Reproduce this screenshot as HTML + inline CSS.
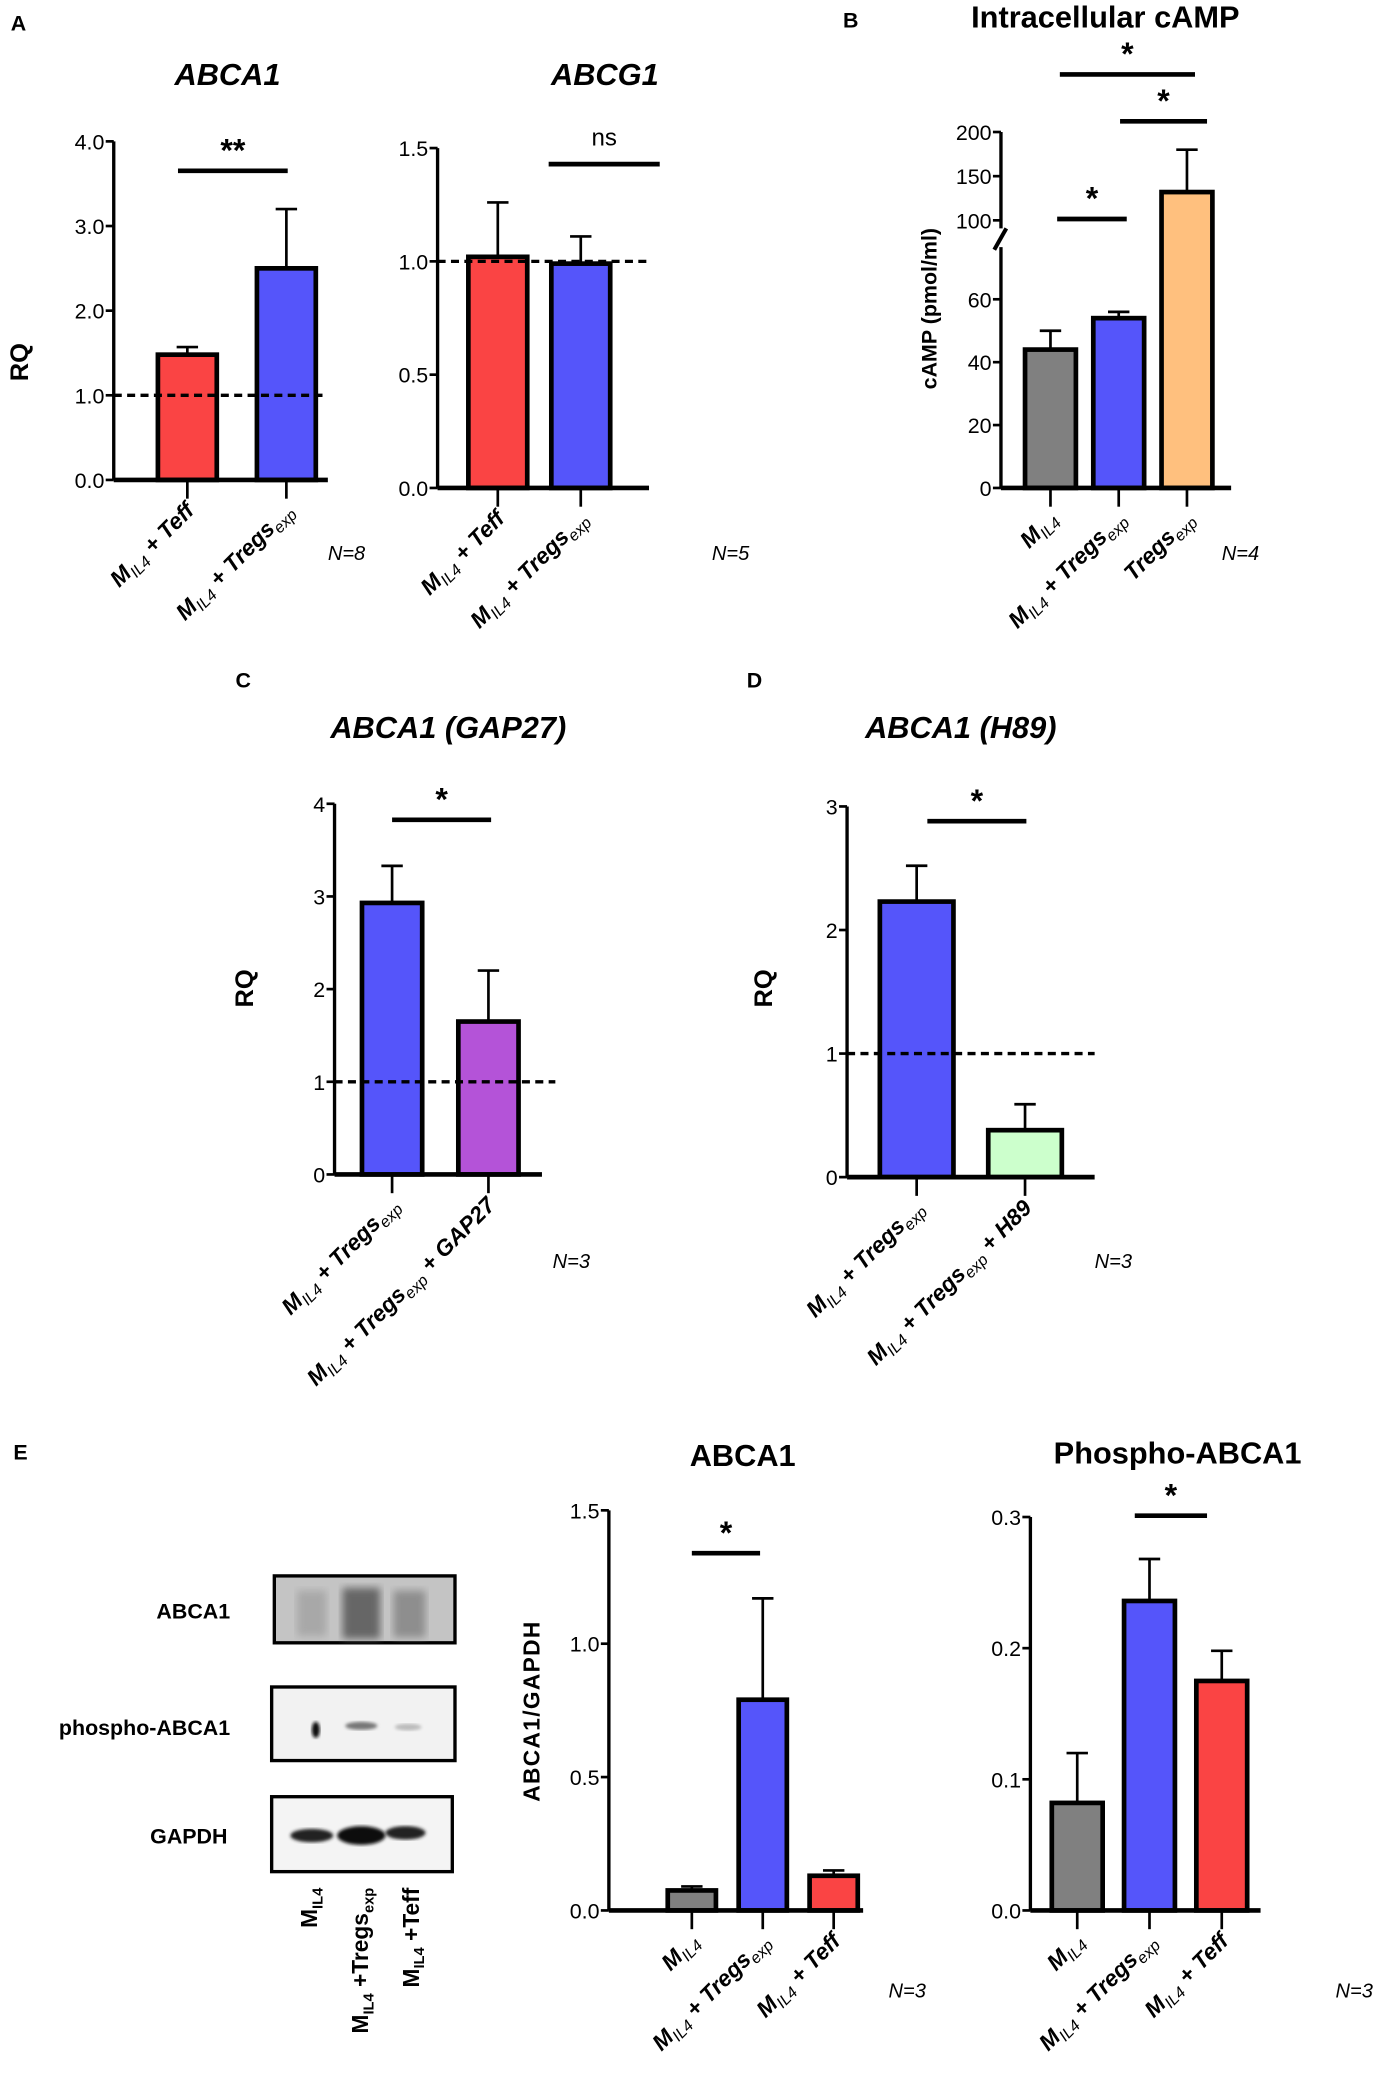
<!DOCTYPE html>
<html><head><meta charset="utf-8">
<style>
html,body{margin:0;padding:0;background:#fff;}
svg{display:block;font-family:"Liberation Sans",sans-serif;}
</style></head>
<body>
<svg id="fig" width="1381" height="2100" viewBox="0 0 1032 1568" xmlns="http://www.w3.org/2000/svg">
<defs>
<filter id="blur2"><feGaussianBlur stdDeviation="3"/></filter>
<filter id="blur1"><feGaussianBlur stdDeviation="1.2"/></filter>
</defs>
<g font-size="16" font-weight="bold">
<text x="8" y="22">A</text><text x="630" y="20">B</text><text x="176" y="513">C</text><text x="558" y="513">D</text><text x="10" y="1090">E</text>
</g>
<g font-weight="bold" font-size="23" text-anchor="middle">
<text x="170" y="63" font-style="italic">ABCA1</text>
<text x="452" y="63" font-style="italic">ABCG1</text>
<text x="826" y="20">Intracellular cAMP</text>
<text x="335" y="551" font-style="italic">ABCA1 (GAP27)</text>
<text x="718" y="551" font-style="italic">ABCA1 (H89)</text>
<text x="555" y="1095">ABCA1</text>
<text x="880" y="1093">Phospho-ABCA1</text>
</g>
<g font-weight="bold" font-size="19" text-anchor="middle">
<text transform="translate(21,270) rotate(-90)">RQ</text>
<text transform="translate(700,230) rotate(-90)" font-size="16">cAMP (pmol/ml)</text>
<text transform="translate(189,738) rotate(-90)">RQ</text>
<text transform="translate(577,738) rotate(-90)">RQ</text>
<text transform="translate(403,1278) rotate(-90)" font-size="17" letter-spacing="1">ABCA1/GAPDH</text>
</g>
<g font-style="italic" font-size="15">
<text x="245" y="418">N=8</text><text x="532" y="418">N=5</text><text x="913" y="418">N=4</text>
<text x="413" y="947">N=3</text><text x="818" y="947">N=3</text><text x="664" y="1492">N=3</text><text x="998" y="1492">N=3</text>
</g>
<g id="charts"></g>
<g>
<g font-weight="bold" font-size="16" text-anchor="end">
<text x="172" y="1209">ABCA1</text><text x="172" y="1296">phospho-ABCA1</text><text x="170" y="1377">GAPDH</text>
</g>
<rect x="205" y="1177" width="135" height="50" fill="#c4c4c4" stroke="#000" stroke-width="2.5"/>
<rect x="222" y="1188" width="22" height="34" fill="#a8a8a8" filter="url(#blur2)"/>
<rect x="256" y="1186" width="28" height="38" fill="#666" filter="url(#blur2)"/>
<rect x="294" y="1188" width="24" height="35" fill="#8e8e8e" filter="url(#blur2)"/>
<rect x="203" y="1260" width="137" height="55" fill="#f2f2f2" stroke="#000" stroke-width="2.5"/>
<ellipse cx="236" cy="1292" rx="3" ry="6" fill="#111" filter="url(#blur1)"/>
<ellipse cx="270" cy="1289" rx="12" ry="3" fill="#777" filter="url(#blur1)"/>
<ellipse cx="305" cy="1290" rx="10" ry="2.5" fill="#bbb" filter="url(#blur1)"/>
<rect x="203" y="1342" width="135" height="56" fill="#f4f4f4" stroke="#000" stroke-width="2.5"/>
<ellipse cx="233" cy="1371" rx="16" ry="5" fill="#222" filter="url(#blur1)"/>
<ellipse cx="270" cy="1371" rx="18" ry="7" fill="#111" filter="url(#blur1)"/>
<ellipse cx="303" cy="1369" rx="15" ry="5" fill="#222" filter="url(#blur1)"/>
<g font-weight="bold" font-size="17" text-anchor="end">
<text transform="translate(237,1410) rotate(-90)">M<tspan font-size="11" dy="4">IL4</tspan></text>
<text transform="translate(275,1410) rotate(-90)">M<tspan font-size="11" dy="4">IL4</tspan><tspan dy="-4"> +Tregs</tspan><tspan font-size="11" dy="4">exp</tspan></text>
<text transform="translate(313,1410) rotate(-90)">M<tspan font-size="11" dy="4">IL4</tspan><tspan dy="-4"> +Teff</tspan></text>
</g>
</g>
</svg>
<script>
// ---- data ----
const A1_vals=[1.48,2.5];
const A1_errs=[1.57,3.2];
const A1_ticks=[0,1,2,3,4];
const A1_tickLabels=['0.0','1.0','2.0','3.0','4.0'];
const G1_vals=[1.02,0.99];
const G1_errs=[1.26,1.11];
const G1_ticks=[0,0.5,1,1.5];
const G1_tickLabels=['0.0','0.5','1.0','1.5'];
const B_vals=[44,54,132];
const B_errs=[50,56,180];
const B_ticks=[0,20,40,60,100,150,200];
const B_tickLabels=['0','20','40','60','100','150','200'];
const C_vals=[2.93,1.65];
const C_errs=[3.33,2.2];
const C_ticks=[0,1,2,3,4];
const C_tickLabels=['0','1','2','3','4'];
const D_vals=[2.23,0.38];
const D_errs=[2.52,0.59];
const D_ticks=[0,1,2,3];
const D_tickLabels=['0','1','2','3'];
const E1_vals=[0.075,0.79,0.13];
const E1_errs=[0.09,1.17,0.15];
const E1_ticks=[0,0.5,1,1.5];
const E1_tickLabels=['0.0','0.5','1.0','1.5'];
const E2_vals=[0.082,0.236,0.175];
const E2_errs=[0.12,0.268,0.198];
const E2_ticks=[0,0.1,0.2,0.3];
const E2_tickLabels=['0.0','0.1','0.2','0.3'];

const NS='http://www.w3.org/2000/svg';
const root=document.getElementById('charts');
function mk(tag,parent,name,attrs){
  const el=document.createElementNS(NS,tag);
  
  
  for(const k in attrs) el.setAttribute(k,attrs[k]);
  parent.appendChild(el);return el;
}
const M=['M',['IL4',1]];
function lbl(parent,x,y,parts,name){
  const t=mk('text',parent,name,{x:x,y:y,'text-anchor':'end','font-size':17,'font-weight':'bold','font-style':'italic',transform:`rotate(-45 ${x} ${y})`});
  let sub=false;
  parts.forEach(p=>{
    const s=Array.isArray(p); const txt=s?p[0]:p; const isSub=s&&p[1];
    const ts=document.createElementNS(NS,'tspan');
    ts.textContent=txt;
    if(isSub){ts.setAttribute('font-size','12');ts.setAttribute('font-weight','normal');if(!sub){ts.setAttribute('dy','4');sub=true;}}
    else if(sub){ts.setAttribute('dy','-4');sub=false;}
    t.appendChild(ts);
  });
}
function chart(c){
  const g=mk('g',root,c.name,{});
  const yf=c.yf||(v=>c.y0-v*(c.y0-c.yTop)/c.max);
  c.vals.forEach((v,i)=>{
    const cx=c.first+i*c.step;
    const ey=yf(c.errs[i]);
    mk('line',g,c.name+'-error-'+i,{x1:cx,x2:cx,y1:yf(v),y2:ey,stroke:'#000','stroke-width':2});
    mk('line',g,c.name+'-error-cap-'+i,{x1:cx-8,x2:cx+8,y1:ey,y2:ey,stroke:'#000','stroke-width':2});
    mk('rect',g,c.name+'-bar-'+i,{x:cx-c.bw/2,y:yf(v),width:c.bw,height:c.y0-yf(v),fill:c.colors[i],stroke:'#000','stroke-width':3.5});
    mk('line',g,c.name+'-xtick-'+i,{x1:cx,x2:cx,y1:c.y0,y2:c.y0+14,stroke:'#000','stroke-width':2});
    lbl(g,cx+6,c.y0+24,c.labels[i],c.name+'-xlabel-'+i);
  });
  if(c.broken){
    mk('line',g,c.name+'-y-axis',{x1:c.x0,x2:c.x0,y1:c.y0,y2:184,stroke:'#000','stroke-width':2.5});
    mk('line',g,c.name+'-y-axis-upper',{x1:c.x0,x2:c.x0,y1:170,y2:c.yTop,stroke:'#000','stroke-width':2.5});
    mk('line',g,c.name+'-axis-break',{x1:c.x0-5,x2:c.x0+4,y1:186,y2:170,stroke:'#000','stroke-width':3});
  } else mk('line',g,c.name+'-y-axis',{x1:c.x0,x2:c.x0,y1:c.y0,y2:c.yTop,stroke:'#000','stroke-width':2.5});
  mk('line',g,c.name+'-x-axis',{x1:c.x0,x2:c.x1,y1:c.y0,y2:c.y0,stroke:'#000','stroke-width':3.5});
  c.ticks.forEach((t,i)=>{
    const y=yf(t);
    mk('line',g,c.name+'-ytick-'+i,{x1:c.x0-6,x2:c.x0,y1:y,y2:y,stroke:'#000','stroke-width':2});
    const tx=mk('text',g,c.name+'-ytick-label-'+i,{x:c.x0-7,y:y+6,'text-anchor':'end','font-size':16});
    tx.textContent=c.tickLabels[i];
  });
  if(c.dash) mk('line',g,c.name+'-reference-line',{x1:c.x0,x2:c.dash,y1:yf(1),y2:yf(1),stroke:'#000','stroke-width':2.5,'stroke-dasharray':'6,4'});
  c.sig.forEach((s,i)=>{
    mk('line',g,c.name+'-sig-bar-'+i,{x1:s[0],x2:s[1],y1:s[2],y2:s[2],stroke:'#000','stroke-width':3.5});
    const tx=mk('text',g,c.name+'-sig-label-'+i,{x:(s[0]+s[1])/2,y:s[2]-(s[3]=='ns'?14:7),'text-anchor':'middle','font-size':s[3]=='ns'?18:24,'font-weight':s[3]=='ns'?'normal':'bold'});
    tx.textContent=s[3];
  });
}
const RED='#fa4444',BLUE='#5555fa',GREY='#808080',ORANGE='#ffc07e',PURPLE='#b453d8',GREEN='#ccffcc';
chart({name:'abca1-chart',x0:85,x1:245,yTop:105,y0:358,max:4,ticks:A1_ticks,tickLabels:A1_tickLabels,vals:A1_vals,errs:A1_errs,first:140,step:74,bw:44,colors:[RED,BLUE],dash:245,
  labels:[[...M,' + Teff'],[...M,' + Tregs',['exp',1]]],sig:[[133,215,127,'**']]});
chart({name:'abcg1-chart',x0:327,x1:485,yTop:110,y0:364,max:1.5,ticks:G1_ticks,tickLabels:G1_tickLabels,vals:G1_vals,errs:G1_errs,first:372,step:62,bw:44,colors:[RED,BLUE],dash:485,
  labels:[[...M,' + Teff'],[...M,' + Tregs',['exp',1]]],sig:[[410,493,122,'ns']]});
chart({name:'camp-chart',x0:748,x1:920,yTop:98,y0:364,broken:true,yf:v=>v<=80?364-v*2.35:164-(v-100)*0.66,ticks:B_ticks,tickLabels:B_tickLabels,vals:B_vals,errs:B_errs,first:785,step:51,bw:38,colors:[GREY,BLUE,ORANGE],
  labels:[[...M],[...M,' + Tregs',['exp',1]],['Tregs',['exp',1]]],sig:[[790,842,163,'*'],[837,902,90,'*'],[792,893,55,'*']]});
chart({name:'gap27-chart',x0:250,x1:405,yTop:600,y0:877,max:4,ticks:C_ticks,tickLabels:C_tickLabels,vals:C_vals,errs:C_errs,first:293,step:72,bw:45,colors:[BLUE,PURPLE],dash:415,
  labels:[[...M,' + Tregs',['exp',1]],[...M,' + Tregs',['exp',1],' + GAP27']],sig:[[293,367,612,'*']]});
chart({name:'h89-chart',x0:633,x1:818,yTop:602,y0:879,max:3,ticks:D_ticks,tickLabels:D_tickLabels,vals:D_vals,errs:D_errs,first:685,step:81,bw:55,colors:[BLUE,GREEN],dash:818,
  labels:[[...M,' + Tregs',['exp',1]],[...M,' + Tregs',['exp',1],' + H89']],sig:[[693,767,613,'*']]});
chart({name:'abca1-gapdh-chart',x0:455,x1:645,yTop:1128,y0:1427,max:1.5,ticks:E1_ticks,tickLabels:E1_tickLabels,vals:E1_vals,errs:E1_errs,first:517,step:53,bw:36,colors:[GREY,BLUE,RED],
  labels:[[...M],[...M,' + Tregs',['exp',1]],[...M,' + Teff']],sig:[[517,568,1160,'*']]});
chart({name:'phospho-abca1-chart',x0:770,x1:942,yTop:1133,y0:1427,max:0.3,ticks:E2_ticks,tickLabels:E2_tickLabels,vals:E2_vals,errs:E2_errs,first:805,step:54,bw:38,colors:[GREY,BLUE,RED],
  labels:[[...M],[...M,' + Tregs',['exp',1]],[...M,' + Teff']],sig:[[848,902,1132,'*']]});
</script>
</body></html>
